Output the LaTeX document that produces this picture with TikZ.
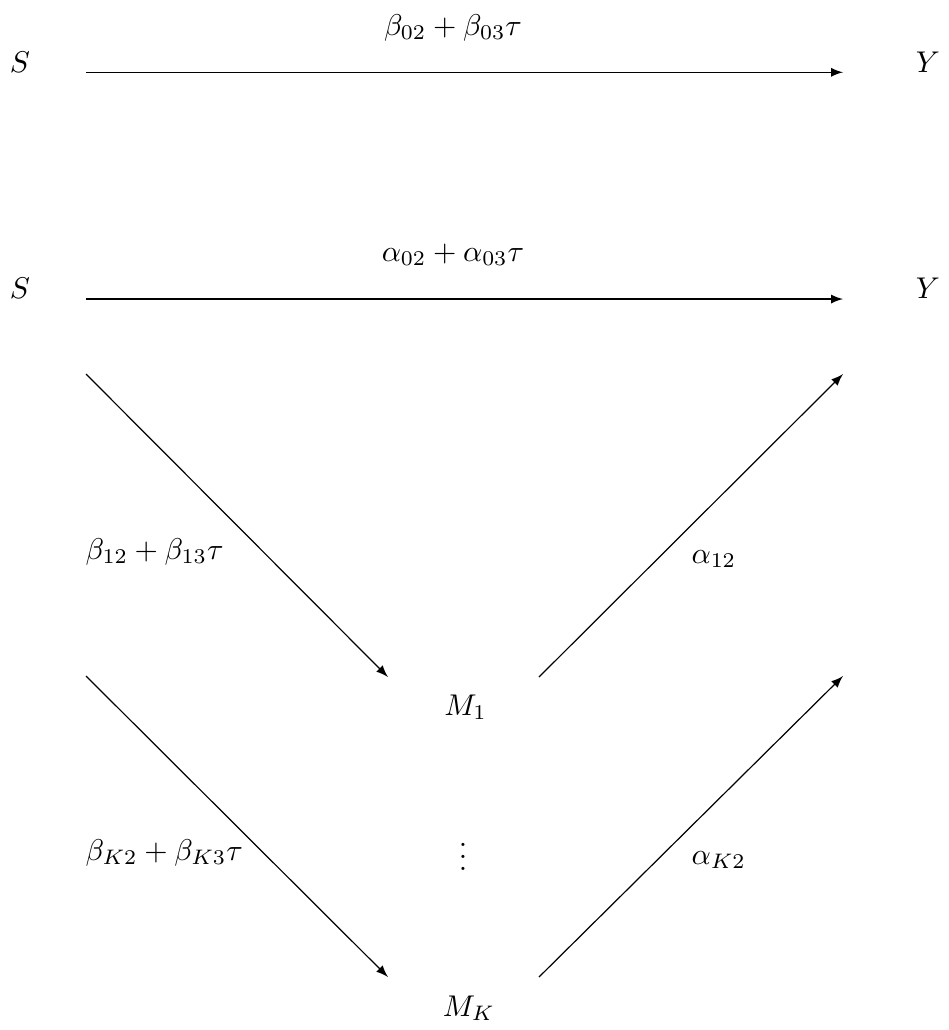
\documentclass[tikz,border=0pt]{standalone}
\usetikzlibrary{positioning, calc}

\begin{document}
\begin{tikzpicture}[
    x=1pt, y=1pt,
    % Node styles
    var/.style={anchor=base, inner sep=0pt},
    coef/.style={anchor=base, inner sep=0pt},
    coef-left/.style={anchor=base west, inner sep=0pt},
    % Connector style
    path-arrow/.style={draw=black, -latex},
  ]
  \useasboundingbox (0,0) rectangle (316,-343.33);

  % === Total effect (top) ===
  \node[var] (s-top) at (6.67,-24) {$S$};
  \node[var] (y-top) at (309.3,-24) {$Y$};
  \coordinate (s-top-out) at (28.67,-24.1);
  \coordinate (y-top-in) at (281,-24.1);
  \draw[path-arrow] (s-top-out) -- (y-top-in);
  \node[coef] (c-total) at (151,-11.67) {$\beta_{02}+\beta_{03}\tau$};

  % === Direct effect ===
  \node[var] (s-dir) at (6.67,-99.33) {$S$};
  \node[var] (y-dir) at (309.3,-99.33) {$Y$};
  \coordinate (s-dir-out) at (28.67,-99.67);
  \coordinate (y-dir-in) at (281,-99.67);
  \draw[path-arrow] (s-dir-out) -- (y-dir-in);
  \node[coef] (c-direct) at (151,-87) {$\alpha_{02}+\alpha_{03}\tau$};

  % === Mediators ===
  \node[var] (m1) at (155.2,-238.33) {$M_1$};
  \node[var] (mk) at (156.3,-338.67) {$M_K$};
  \node[anchor=center, inner sep=0pt] (dots) at (154.33,-282.67) {$\vdots$};

  % S -> M_1 -> Y
  \coordinate (s-m1) at (28.67,-124.67);
  \coordinate (m1-in) at (129.33,-225.67);
  \coordinate (m1-out) at (179.67,-225.67);
  \coordinate (y-m1) at (281,-124.67);
  \draw[path-arrow] (s-m1) -- (m1-in);
  \draw[path-arrow] (m1-out) -- (y-m1);
  \node[coef-left] (c-a1) at (28.33,-186.33) {$\beta_{12}+\beta_{13}\tau$};
  \node[coef-left] (c-b1) at (230.33,-187.67) {$\alpha_{12}$};

  % S -> M_K -> Y
  \coordinate (s-mk) at (28.67,-225.33);
  \coordinate (mk-in) at (129.33,-325.67);
  \coordinate (mk-out) at (179.67,-325.67);
  \coordinate (y-mk) at (281,-225.33);
  \draw[path-arrow] (s-mk) -- (mk-in);
  \draw[path-arrow] (mk-out) -- (y-mk);
  \node[coef-left] (c-ak) at (28.33,-286.67) {$\beta_{K2}+\beta_{K3}\tau$};
  \node[coef-left] (c-bk) at (230.33,-288) {$\alpha_{K2}$};

\end{tikzpicture}
\end{document}
